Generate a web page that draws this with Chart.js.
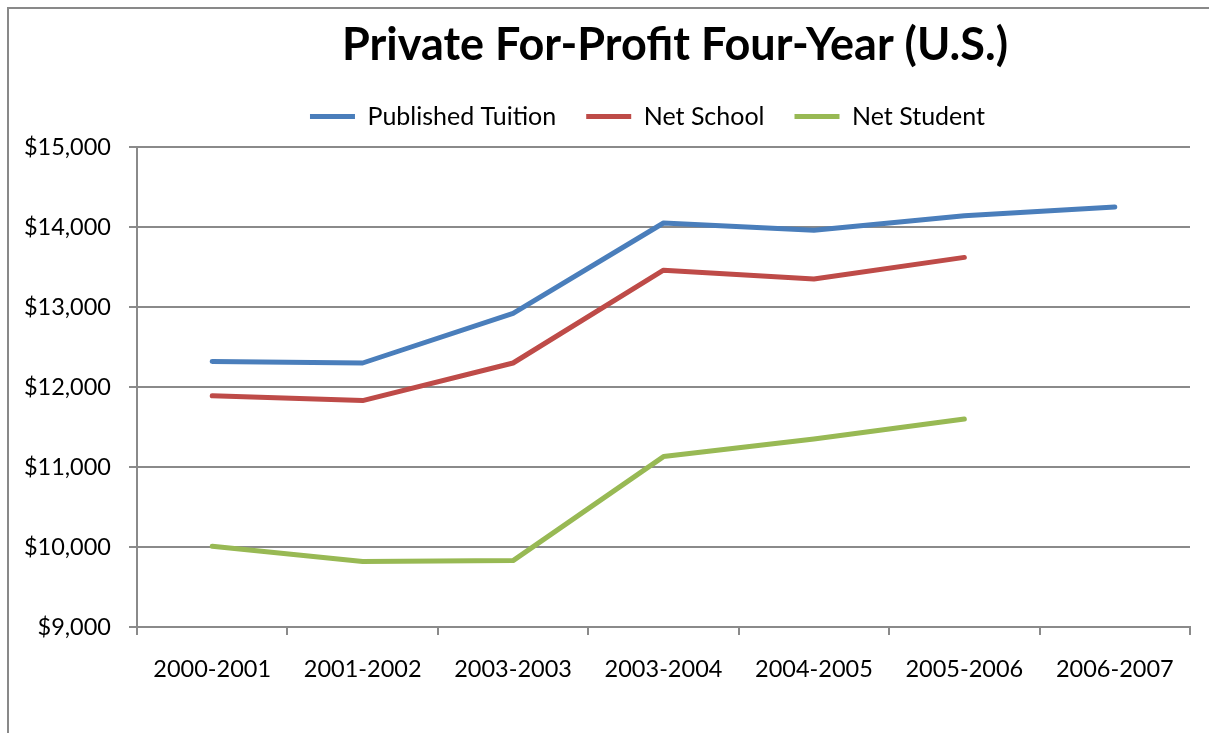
<!DOCTYPE html>
<html lang="en">

<head>
    <meta charset="UTF-8">
    <title>Private For-Profit Four-Year (U.S.)</title>
    <script src="https://cdn.jsdelivr.net/npm/chart.js"></script>
    <style>
        body {
            margin: 0;
            background: #fff;
            overflow: hidden;
        }

        .frame {
            position: absolute;
            left: 7px;
            top: 7px;
            width: 1400px;
            height: 900px;
            border: 2px solid #898989;
        }

        .chart-container {
            position: absolute;
            left: 0;
            top: 0;
            width: 1209px;
            height: 733px;
        }
    </style>
</head>

<body>
    <div class="frame"></div>
    <div class="chart-container">
        <canvas id="tuitionChart"></canvas>
    </div>

    <script>
        const years = ['2000-2001', '2001-2002', '2003-2003', '2003-2004', '2004-2005', '2005-2006', '2006-2007'];
        const publishedTuition = [12320, 12300, 12920, 14050, 13960, 14140, 14250];
        const netSchool = [11890, 11830, 12300, 13460, 13350, 13620, null];
        const netStudent = [10010, 9820, 9830, 11130, 11350, 11600, null];
        const yTicks = [9000, 10000, 11000, 12000, 13000, 14000, 15000];

        const gridGray = '#8a8a8a';
        const tickFont = { family: 'Lato', size: 23.5 };

        function lineSet(label, data, color) {
            return {
                label: label,
                data: data,
                borderColor: color,
                backgroundColor: color,
                borderWidth: 5,
                borderCapStyle: 'round',
                borderJoinStyle: 'round',
                pointRadius: 0,
                pointStyle: 'line',
                tension: 0,
                fill: false
            };
        }

        // nudge title / legend the way the original sheet placed them
        const placeBlocks = {
            id: 'placeBlocks',
            beforeLayout(chart) {
                const lg = chart.legend;
                if (lg && !lg._padded) {
                    const fit = lg.fit;
                    lg.fit = function () {
                        fit.call(this);
                        this.height += 8;
                    };
                    lg._padded = true;
                }
            },
            afterLayout(chart) {
                if (chart.titleBlock) {
                    chart.titleBlock.left += 80;
                    chart.titleBlock.right += 80;
                }
                if (chart.legend) {
                    chart.legend.left -= 16;
                    chart.legend.right -= 16;
                }
            }
        };

        const ctx = document.getElementById('tuitionChart').getContext('2d');
        new Chart(ctx, {
            type: 'line',
            data: {
                labels: years,
                datasets: [
                    lineSet('Published Tuition', publishedTuition, '#4a7ebb'),
                    lineSet('Net School', netSchool, '#be4b48'),
                    lineSet('Net Student', netStudent, '#98b954')
                ]
            },
            plugins: [placeBlocks],
            options: {
                responsive: true,
                maintainAspectRatio: false,
                animation: false,
                layout: { padding: { left: 0, right: 19, top: 0, bottom: 0 } },
                plugins: {
                    title: {
                        display: true,
                        text: 'Private For-Profit Four-Year (U.S.)',
                        color: '#000',
                        font: { family: 'Lato', size: 45, weight: 'bold' },
                        padding: { top: 18, bottom: 2 }
                    },
                    legend: {
                        fullSize: false,
                        labels: {
                            color: '#000',
                            font: { family: 'Lato', size: 25 },
                            usePointStyle: true,
                            pointStyleWidth: 45,
                            padding: 30
                        }
                    },
                    tooltip: { enabled: false }
                },
                scales: {
                    x: {
                        offset: true,
                        grid: {
                            offset: true,
                            drawOnChartArea: false,
                            drawTicks: true,
                            tickLength: 8,
                            color: gridGray,
                            lineWidth: 2
                        },
                        border: { color: gridGray, width: 2 },
                        ticks: { color: '#000', font: tickFont, padding: 20, maxRotation: 0 },
                        afterFit: function (scale) { scale.height = 106; }
                    },
                    y: {
                        min: 9000,
                        max: 15000,
                        afterBuildTicks: function (scale) {
                            scale.ticks = yTicks.map(v => ({ value: v }));
                        },
                        grid: {
                            color: gridGray,
                            lineWidth: 2,
                            tickLength: 8
                        },
                        border: { color: gridGray, width: 2 },
                        ticks: {
                            color: '#000',
                            font: tickFont,
                            padding: 18,
                            callback: v => '$' + v.toLocaleString('en-US')
                        },
                        afterFit: function (scale) { scale.width = 137; }
                    }
                }
            }
        });
    </script>
</body>

</html>
